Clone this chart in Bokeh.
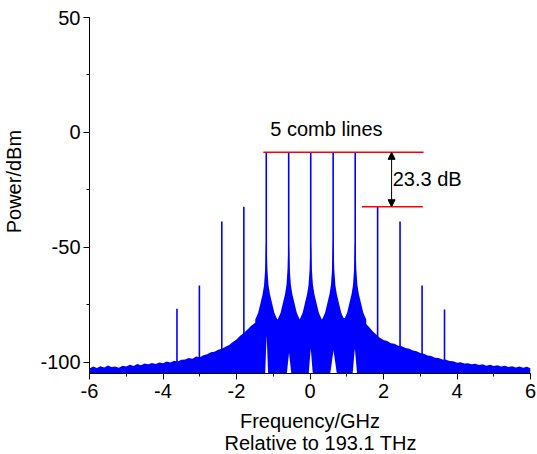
import numpy as np
from bokeh.plotting import figure
from bokeh.models import (Range1d, SingleIntervalTicker, Label, Arrow, NormalHead, Title,
                          PrintfTickFormatter)
from bokeh.embed import file_html
from bokeh.resources import INLINE

# ---- data ----
# comb lines: frequency (GHz, relative to 193.1 THz) and peak power (dBm)
comb_freq = [-3.62, -3.01, -2.40, -1.80, -1.19, -0.58, 0.02, 0.63, 1.23, 1.84, 2.45, 3.05, 3.66]
comb_power = [-76.8, -66.7, -38.8, -32.4, -8.7, -8.7, -8.7, -8.7, -8.7, -32.4, -38.8, -66.7, -77.1]
comb_base = [-100.5, -99.0, -95.0, -88.5, -83.0, -83.0, -83.0, -83.0, -83.0, -89.5, -94.0, -97.0, -100.0]

# noise floor: upper envelope sampled every 0.1 GHz from -6 to 6
floor_freq = np.round(np.linspace(-6.0, 6.0, 121), 2)
floor_top = [
    -102.8, -102.0, -102.6, -101.8, -102.4, -101.5, -102.2, -101.9, -102.5, -101.6,
    -101.9, -101.2, -101.7, -100.9, -101.4, -100.6, -101.0, -100.4, -100.9, -100.2,
    -100.5, -99.8, -100.2, -99.4, -99.8, -99.0, -98.9, -98.3, -98.6, -97.6,
    -97.9, -97.0, -96.6, -95.8, -95.5, -94.7, -94.2, -93.3, -92.6, -91.3,
    -90.2, -88.6, -87.4, -85.8, -84.2, -83.0, -82.0, -81.5, -81.0, -81.2,
    -80.6, -81.5, -80.8, -81.0, -80.5, -81.2, -80.7, -81.6, -80.8, -81.0,
    -80.4, -81.3, -80.6, -81.5, -80.9, -80.5, -81.2, -80.8, -81.6, -80.7,
    -81.0, -80.9, -81.3, -81.8, -82.3, -83.0, -84.6, -86.5, -88.0, -89.4,
    -90.4, -90.9, -91.8, -92.0, -92.9, -93.1, -93.9, -94.2, -95.0, -95.3,
    -96.1, -96.4, -97.2, -97.4, -98.1, -98.3, -98.9, -99.0, -99.6, -99.7,
    -100.3, -100.1, -100.7, -100.5, -101.0, -100.8, -101.3, -101.0, -101.6, -101.2,
    -101.7, -101.4, -102.0, -101.6, -102.2, -101.8, -102.4, -102.0, -102.5, -102.1, -102.7,
]
floor_bottom = -105.0

# skirt around each of the 5 central lines: offset (GHz) and level (dBm)
skirt_offset = [-0.30, -0.22, -0.16, -0.10, -0.06, -0.03, -0.015, 0.0, 0.015, 0.03, 0.06, 0.10, 0.16, 0.22, 0.30]
skirt_level = [-81.5, -78.5, -74.5, -70.5, -66.5, -59.5, -51.0, -45.0, -51.0, -59.5, -66.5, -70.5, -74.5, -78.5, -81.5]
skirt_lines = [-1.19, -0.58, 0.02, 0.63, 1.23]

# white gaps below the floor under the central lines
gap_center = [-1.18, -0.57, 0.02, 0.64, 1.22]
gap_top = [-88.4, -96.0, -94.0, -95.0, -94.0]
gap_halfwidth = [0.04, 0.06, 0.055, 0.09, 0.06]

# red reference lines and the annotation
ref_x0 = [-1.27, 1.41]
ref_x1 = [3.09, 3.07]
ref_y = [-8.7, -32.4]
arrow_x = 2.22

x_range = (-6, 6)
y_range = (-105, 50)

FONT = "Liberation Sans"
BLUE = "#0000ff"

p = figure(width=536, height=454, output_backend="svg", toolbar_location=None,
           x_range=Range1d(*x_range), y_range=Range1d(*y_range),
           min_border_left=89, min_border_right=6, min_border_top=17, min_border_bottom=81)
p.outline_line_color = None
p.xgrid.visible = False
p.ygrid.visible = False
p.background_fill_color = "white"
p.border_fill_color = "white"

# noise floor
p.varea(x=floor_freq, y1=floor_bottom, y2=floor_top, fill_color=BLUE)

# gaps
p.patches(xs=[[c - w, c, c + w] for c, w in zip(gap_center, gap_halfwidth)],
          ys=[[floor_bottom, t, floor_bottom] for t in gap_top],
          fill_color="white", line_color=None)

# skirts
for c in skirt_lines:
    p.varea(x=[c + o for o in skirt_offset], y1=-84.0, y2=skirt_level, fill_color=BLUE)

# comb lines
p.segment(x0=comb_freq, y0=comb_base, x1=comb_freq, y1=comb_power, line_color=BLUE, line_width=1.6)

# red lines
p.segment(x0=ref_x0, y0=ref_y, x1=ref_x1, y1=ref_y, line_color="#ff0000", line_width=1.6)

# double arrow
p.add_layout(Arrow(x_start=arrow_x, y_start=ref_y[0], x_end=arrow_x, y_end=ref_y[1],
                   start=NormalHead(size=7, fill_color="black", line_color="black", line_width=1),
                   end=NormalHead(size=7, fill_color="black", line_color="black", line_width=1),
                   line_color="black", line_width=1))

# texts inside the plot
p.add_layout(Label(x=-1.08, y=1.3, text="5 comb lines", text_font=FONT, text_font_size="20px",
                   text_color="black", text_align="left", text_baseline="middle"))
p.add_layout(Label(x=2.25, y=-20.2, text="23.3 dB", text_font=FONT, text_font_size="20px",
                   text_color="black", text_align="left", text_baseline="middle"))

# axes
p.xaxis.ticker = SingleIntervalTicker(interval=2, num_minor_ticks=2)
p.yaxis.ticker = SingleIntervalTicker(interval=50, num_minor_ticks=2)
p.xaxis.formatter = PrintfTickFormatter(format="%d")
p.yaxis.formatter = PrintfTickFormatter(format="%d")
for ax in (p.xaxis[0], p.yaxis[0]):
    ax.axis_line_color = "black"
    ax.axis_line_width = 1
    ax.major_tick_line_color = "black"
    ax.minor_tick_line_color = "black"
    ax.major_tick_in = 0
    ax.major_tick_out = 6
    ax.minor_tick_in = 0
    ax.minor_tick_out = 3
    ax.major_label_text_font = FONT
    ax.major_label_text_font_size = "20px"
    ax.major_label_text_color = "black"
    ax.axis_label_text_font = FONT
    ax.axis_label_text_font_size = "20px"
    ax.axis_label_text_font_style = "normal"
    ax.axis_label_text_color = "black"
p.xaxis.major_label_standoff = 4
p.yaxis.major_label_standoff = 3

p.yaxis.axis_label = "\u00a0" * 5 + "Power/dBm"
p.yaxis.axis_label_standoff = 12
p.xaxis.axis_label = "Frequency/GHz"
p.xaxis.axis_label_standoff = 9

p.add_layout(Title(text="Relative to 193.1 THz", align="left", offset=135, standoff=-10,
                   vertical_align="bottom",
                   text_font=FONT, text_font_size="20px", text_font_style="normal",
                   text_color="black"), "below")

open("out.html", "w").write(file_html(p, INLINE))
